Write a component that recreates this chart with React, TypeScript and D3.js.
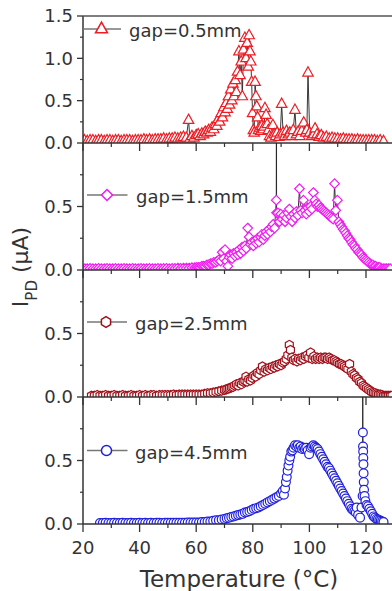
import * as d3 from "d3"

type Pt = [number, number]

// temperature (°C), photocurrent (µA)
const gap05: Pt[] = [
  [20.5, 0.03], [21.5, 0.02], [22.5, 0.03], [23.5, 0.03], [24.5, 0.02], [25.5, 0.03], [26.5, 0.03], [27.5, 0.02],
  [28.5, 0.03], [29.5, 0.03], [30.5, 0.02], [31.5, 0.03], [32.5, 0.03], [33.5, 0.02], [34.5, 0.03], [35.5, 0.03],
  [36.5, 0.03], [37.5, 0.02], [38.5, 0.03], [39.5, 0.03], [40.5, 0.03], [41.5, 0.04], [42.5, 0.03], [43.5, 0.04],
  [44.5, 0.03], [45.5, 0.04], [46.5, 0.04], [47.5, 0.04], [48.5, 0.05], [49.5, 0.04], [50.5, 0.05], [51.5, 0.05],
  [52.5, 0.06], [53.5, 0.05], [54.5, 0.06], [55.5, 0.07], [56.5, 0.06], [57.3, 0.27], [57.8, 0.05], [58.5, 0.08],
  [59.2, 0.06], [60, 0.09], [60.7, 0.1], [61.4, 0.08], [62, 0.11], [62.6, 0.1], [63.2, 0.13], [63.8, 0.12],
  [64.4, 0.15], [65, 0.13], [65.6, 0.18], [66.2, 0.16], [66.8, 0.22], [67.3, 0.2], [67.8, 0.28], [68.3, 0.25],
  [68.8, 0.35], [69.3, 0.3], [69.8, 0.42], [70.2, 0.36], [70.6, 0.47], [71, 0.4], [71.4, 0.55], [71.8, 0.45],
  [72.2, 0.63], [72.6, 0.5], [73, 0.7], [73.4, 0.55], [73.8, 0.74], [74.2, 0.6], [74.6, 0.84], [75.1, 1.08],
  [75.5, 0.8], [75.9, 0.96], [76.3, 0.55], [76.7, 1.1], [77.2, 1.24], [77.6, 1.0], [78, 1.18], [78.4, 0.9],
  [78.7, 1.27], [79, 1.08], [79.3, 0.96], [79.6, 0.72], [79.9, 0.35], [80.2, 0.15], [80.5, 0.12], [80.8, 0.72],
  [81.1, 0.55], [81.4, 0.43], [81.7, 0.3], [82, 0.15], [82.4, 0.18], [82.8, 0.14], [83.2, 0.2], [83.6, 0.16],
  [84, 0.19], [84.3, 0.41], [84.7, 0.33], [85.1, 0.22], [85.5, 0.15], [85.9, 0.08], [86.4, 0.06], [87.1, 0.21],
  [87.6, 0.1], [88.1, 0.08], [88.6, 0.12], [89.2, 0.07], [89.7, 0.1], [90.2, 0.46], [90.7, 0.12], [91.3, 0.08],
  [91.9, 0.14], [92.5, 0.1], [93.1, 0.12], [93.7, 0.08], [94.3, 0.15], [94.9, 0.39], [95.4, 0.1], [96, 0.13],
  [96.6, 0.08], [97.3, 0.14], [98, 0.24], [98.7, 0.12], [99.1, 0.15], [99.5, 0.83], [100.1, 0.12], [100.8, 0.08],
  [101.5, 0.1], [102, 0.17], [102.7, 0.1], [103.4, 0.07], [104.2, 0.09], [105, 0.06], [106, 0.07], [107, 0.05],
  [108, 0.06], [109, 0.05], [110, 0.05], [111, 0.04], [112, 0.05], [113, 0.04], [114, 0.04], [115, 0.04],
  [116, 0.03], [117, 0.04], [118, 0.03], [119, 0.03], [120, 0.03], [121, 0.03], [122, 0.03], [123, 0.03],
  [124, 0.02], [125, 0.03], [126.2, 0.02],
]

const gap15: Pt[] = [
  [20.7, 0.01], [21.5, 0.01], [22.5, 0.012], [23.5, 0.01], [24.5, 0.01], [25.5, 0.012], [26.5, 0.01], [27.5, 0.01],
  [28.5, 0.012], [29.5, 0.01], [30.5, 0.01], [31.5, 0.012], [32.5, 0.01], [33.5, 0.01], [34.5, 0.012], [35.5, 0.01],
  [36.5, 0.01], [37.5, 0.012], [38.5, 0.01], [39.5, 0.01], [40.5, 0.012], [41.5, 0.01], [42.5, 0.01], [43.5, 0.012],
  [44.5, 0.01], [45.5, 0.01], [46.5, 0.012], [47.5, 0.01], [48.5, 0.012], [49.5, 0.012], [50.5, 0.01], [51.5, 0.012],
  [52.5, 0.012], [53.5, 0.015], [54.5, 0.012], [55.5, 0.015], [56.5, 0.015], [57.5, 0.015], [58.5, 0.018], [59.5, 0.018],
  [60.2, 0.02], [60.8, 0.02], [61.4, 0.02], [62, 0.03], [62.6, 0.03], [63.2, 0.03], [63.8, 0.04], [64.4, 0.04],
  [65, 0.05], [65.6, 0.05], [66.2, 0.06], [66.8, 0.06], [67.4, 0.07], [68, 0.08], [68.6, 0.07], [69.2, 0.14],
  [69.7, 0.09], [70.2, 0.16], [70.7, 0.07], [71.2, 0.03], [71.7, 0.1], [72.2, 0.12], [72.7, 0.09], [73.2, 0.13],
  [73.7, 0.11], [74.2, 0.14], [74.7, 0.12], [75.2, 0.16], [75.7, 0.13], [76.2, 0.18], [76.7, 0.15], [77.2, 0.19],
  [77.7, 0.17], [78.2, 0.33], [78.7, 0.26], [79.2, 0.2], [79.7, 0.22], [80.2, 0.19], [80.7, 0.23], [81.2, 0.21],
  [81.7, 0.25], [82.2, 0.22], [82.7, 0.26], [83.2, 0.28], [83.7, 0.24], [84.2, 0.27], [84.7, 0.3], [85.2, 0.28],
  [85.7, 0.32], [86.2, 0.3], [86.7, 0.34], [87.2, 0.36], [87.7, 0.33], [88.3, 0.55], [88.35, 1.9], [88.4, 0.45],
  [88.9, 0.45], [89.4, 0.38], [89.9, 0.44], [90.4, 0.4], [90.9, 0.43], [91.4, 0.38], [91.9, 0.41], [92.4, 0.45],
  [92.9, 0.48], [93.4, 0.42], [93.9, 0.38], [94.4, 0.44], [94.9, 0.41], [95.4, 0.46], [95.9, 0.43], [96.5, 0.64],
  [96.9, 0.47], [97.4, 0.45], [97.9, 0.55], [98.4, 0.47], [98.9, 0.44], [99.4, 0.49], [99.9, 0.46], [100.4, 0.5],
  [100.9, 0.48], [101.4, 0.61], [101.9, 0.55], [102.4, 0.52], [102.9, 0.5], [103.4, 0.51], [103.9, 0.49], [104.4, 0.48],
  [104.9, 0.47], [105.4, 0.46], [105.9, 0.45], [106.4, 0.44], [106.9, 0.43], [107.4, 0.42], [107.9, 0.41], [108.4, 0.4],
  [108.9, 0.68], [109.3, 0.47], [109.9, 0.55], [110.4, 0.38], [110.9, 0.36], [111.4, 0.34], [111.9, 0.32], [112.4, 0.31],
  [112.9, 0.29], [113.4, 0.27], [113.9, 0.25], [114.4, 0.24], [114.9, 0.22], [115.4, 0.2], [115.9, 0.19], [116.4, 0.17],
  [116.9, 0.16], [117.4, 0.14], [117.9, 0.13], [118.4, 0.12], [118.9, 0.1], [119.4, 0.09], [119.9, 0.08], [120.4, 0.07],
  [120.9, 0.06], [121.4, 0.05], [121.9, 0.04], [122.4, 0.04], [122.9, 0.03], [123.4, 0.03], [123.9, 0.02], [124.4, 0.02],
  [124.9, 0.02], [125.5, 0.01], [126.1, 0.01], [126.7, 0.01], [127.3, 0.01], [128, 0.01], [128.6, 0.01],
]

const gap25: Pt[] = [
  [23, 0.01], [24, 0.01], [25, 0.015], [26, 0.01], [27, 0.01], [28, 0.015], [29, 0.01], [30, 0.01],
  [31, 0.015], [32, 0.01], [33, 0.01], [34, 0.015], [35, 0.01], [36, 0.01], [37, 0.015], [38, 0.01],
  [39, 0.01], [40, 0.015], [41, 0.01], [42, 0.015], [43, 0.01], [44, 0.015], [45, 0.015], [46, 0.01],
  [47, 0.015], [48, 0.015], [49, 0.015], [50, 0.015], [51, 0.015], [52, 0.02], [53, 0.015], [54, 0.02],
  [55, 0.02], [56, 0.02], [57, 0.02], [58, 0.02], [59, 0.02], [60, 0.02], [61, 0.02], [62, 0.02],
  [63, 0.025], [64, 0.03], [65, 0.03], [66, 0.035], [67, 0.04], [68, 0.045], [69, 0.05], [70, 0.055],
  [70.6, 0.06], [71.2, 0.065], [71.8, 0.07], [72.4, 0.075], [73, 0.08], [73.6, 0.09], [74.2, 0.1], [74.8, 0.09],
  [75.4, 0.11], [76, 0.1], [76.6, 0.12], [77.2, 0.13], [77.6, 0.16], [78, 0.12], [78.6, 0.14], [79.2, 0.13],
  [79.8, 0.15], [80.4, 0.17], [81, 0.16], [81.6, 0.19], [82.2, 0.18], [82.8, 0.21], [83.4, 0.24], [84, 0.2],
  [84.6, 0.22], [85.2, 0.21], [85.8, 0.23], [86.4, 0.22], [87, 0.24], [87.6, 0.23], [88.2, 0.25], [88.8, 0.24],
  [89.4, 0.26], [90, 0.25], [90.6, 0.27], [91.2, 0.28], [91.8, 0.3], [92.4, 0.33], [92.9, 0.41], [93.3, 0.37],
  [93.8, 0.31], [94.4, 0.29], [95, 0.3], [95.6, 0.28], [96.2, 0.3], [96.8, 0.29], [97.4, 0.31], [98, 0.3],
  [98.6, 0.32], [99.2, 0.33], [99.8, 0.31], [100.4, 0.35], [101, 0.3], [101.6, 0.32], [102.2, 0.3], [102.8, 0.31],
  [103.4, 0.3], [104, 0.31], [104.6, 0.3], [105.2, 0.31], [105.8, 0.31], [106.4, 0.3], [107, 0.31], [107.6, 0.3],
  [108.2, 0.29], [108.8, 0.29], [109.4, 0.28], [110, 0.27], [110.6, 0.26], [111.2, 0.26], [111.8, 0.25], [112.4, 0.24],
  [113, 0.23], [113.6, 0.22], [114.2, 0.26], [114.8, 0.2], [115.4, 0.18], [116, 0.17], [116.6, 0.15], [117.2, 0.14],
  [117.8, 0.12], [118.4, 0.11], [119, 0.09], [119.6, 0.08], [120.2, 0.07], [120.8, 0.06], [121.4, 0.05], [122, 0.04],
  [122.6, 0.035], [123.2, 0.03], [123.8, 0.025], [124.4, 0.02], [125, 0.02], [125.6, 0.015], [126.2, 0.01], [126.8, 0.01],
  [127.4, 0.01], [128, 0.01], [128.6, 0.01], [129.2, 0.01],
]

const gap45: Pt[] = [
  [26, 0.008], [27, 0.008], [28, 0.01], [29, 0.008], [30, 0.008], [31, 0.01], [32, 0.008], [33, 0.008],
  [34, 0.01], [35, 0.008], [36, 0.008], [37, 0.01], [38, 0.008], [39, 0.008], [40, 0.01], [41, 0.008],
  [42, 0.01], [43, 0.008], [44, 0.01], [45, 0.008], [46, 0.01], [47, 0.01], [48, 0.008], [49, 0.01],
  [50, 0.01], [51, 0.01], [52, 0.01], [53, 0.01], [54, 0.01], [55, 0.01], [56, 0.01], [57, 0.012],
  [58, 0.012], [59, 0.012], [60, 0.012], [61, 0.012], [62, 0.015], [63, 0.015], [64, 0.02], [65, 0.02],
  [66, 0.025], [67, 0.03], [68, 0.03], [69, 0.035], [70, 0.04], [70.8, 0.045], [71.6, 0.05], [72.4, 0.055],
  [73.2, 0.06], [74, 0.065], [74.8, 0.07], [75.6, 0.075], [76.4, 0.08], [77.2, 0.09], [78, 0.095], [78.8, 0.1],
  [79.6, 0.11], [80.4, 0.12], [81.2, 0.125], [82, 0.13], [82.8, 0.14], [83.6, 0.15], [84.4, 0.16], [85.2, 0.17],
  [86, 0.18], [86.8, 0.19], [87.6, 0.2], [88.4, 0.21], [89.2, 0.22], [90, 0.24], [90.6, 0.26], [91, 0.23],
  [91.4, 0.28], [91.7, 0.33], [92, 0.37], [92.3, 0.42], [92.6, 0.46], [92.9, 0.5], [93.2, 0.53], [93.6, 0.57],
  [94, 0.58], [94.4, 0.6], [94.9, 0.62], [95.4, 0.61], [95.9, 0.62], [96.4, 0.6], [96.9, 0.61], [97.4, 0.59],
  [97.9, 0.6], [98.4, 0.59], [98.9, 0.6], [99.4, 0.58], [99.9, 0.55], [100.4, 0.6], [100.9, 0.61], [101.4, 0.62],
  [101.9, 0.61], [102.4, 0.6], [102.9, 0.59], [103.4, 0.57], [103.9, 0.55], [104.4, 0.53], [104.9, 0.51], [105.4, 0.49],
  [105.9, 0.47], [106.4, 0.45], [106.9, 0.44], [107.4, 0.42], [107.9, 0.4], [108.4, 0.38], [108.9, 0.36], [109.4, 0.34],
  [109.9, 0.32], [110.4, 0.3], [110.9, 0.28], [111.4, 0.26], [111.9, 0.24], [112.4, 0.22], [112.9, 0.2], [113.4, 0.18],
  [113.9, 0.16], [114.4, 0.14], [114.9, 0.12], [115.4, 0.11], [115.9, 0.1], [116.4, 0.09], [116.7, 0.13], [117.2, 0.07],
  [117.9, 0.05], [118.4, 0.13], [118.8, 0.22], [118.85, 1.9], [118.9, 0.72], [118.95, 0.61], [119, 0.57], [119.05, 0.52],
  [119.1, 0.47], [119.15, 0.4], [119.2, 0.33], [119.3, 0.27], [119.5, 0.22], [119.8, 0.18], [120.2, 0.15], [120.7, 0.14],
  [121.2, 0.12], [121.7, 0.1], [122.2, 0.08], [122.7, 0.06], [123.2, 0.05], [123.7, 0.04], [124.2, 0.035], [124.7, 0.03],
  [125.2, 0.025], [125.7, 0.02], [126.2, 0.015],
]

const xTicks = [20, 40, 60, 80, 100, 120]
const xMinor = [30, 50, 70, 90, 110, 130]

const panels = [
  { label: "gap=0.5mm", data: gap05, color: "#ee1c24", shape: "triangle", yMax: 1.5, yTicks: [0, 0.5, 1.0, 1.5], yMinor: [0.25, 0.75, 1.25], legY: 13, legX: 101.5, legLine: [83, 121], legText: 129 },
  { label: "gap=1.5mm", data: gap15, color: "#ee1cee", shape: "diamond", yMax: 1.0, yTicks: [0, 0.5], yMinor: [0.25, 0.75], legY: 52, legX: 107, legLine: [87, 127.5], legText: 136 },
  { label: "gap=2.5mm", data: gap25, color: "#a0101a", shape: "hexagon", yMax: 1.0, yTicks: [0, 0.5], yMinor: [0.25, 0.75], legY: 52, legX: 106, legLine: [87, 127], legText: 135 },
  { label: "gap=4.5mm", data: gap45, color: "#2020dd", shape: "circle", yMax: 1.0, yTicks: [0, 0.5], yMinor: [0.25, 0.75], legY: 53.5, legX: 106.5, legLine: [87, 127.5], legText: 135 },
]

function shapePath(shape: string, s = 1) {
  if (shape === "triangle") return `M0,${-6 * s}L${5.2 * s},${3.3 * s}L${-5.2 * s},${3.3 * s}Z`
  if (shape === "diamond") return `M0,${-4.8 * s}L${4.8 * s},0L0,${4.8 * s}L${-4.8 * s},0Z`
  if (shape === "hexagon") {
    const r = 4.6 * s
    const pts = d3.range(6).map((i) => {
      const a = (Math.PI / 3) * i + Math.PI / 6
      return `${(r * Math.cos(a)).toFixed(2)},${(r * Math.sin(a)).toFixed(2)}`
    })
    return "M" + pts.join("L") + "Z"
  }
  return d3.symbol(d3.symbolCircle, Math.PI * (4.4 * s) ** 2)() as string
}

export default function App() {
  const W = 392
  const H = 591
  const left = 83
  const panelTop0 = 16
  const panelH = 127
  const axisColor = "#333"
  const textColor = "#333"

  const x = d3.scaleLinear().domain([20, 130]).range([left, left + 110 * 2.83])
  const fmt = d3.format(".1f")

  return (
    <svg width={W} height={H} style={{ position: "absolute", left: 0, top: 0, background: "#fff" }} fontFamily="DejaVu Sans">
      <rect width={W} height={H} fill="#fff" />
      {panels.map((p, i) => {
        const top = panelTop0 + i * panelH
        const bottom = top + panelH
        const y = d3.scaleLinear().domain([0, p.yMax]).range([bottom, top])
        const line = d3.line<Pt>().x((d) => x(d[0])).y((d) => y(d[1]))
        const clipId = `clip-${i}`
        return (
          <g key={p.label}>
            <clipPath id={clipId}>
              <rect x={left} y={top} width={W - left} height={panelH} />
            </clipPath>
            <g clipPath={`url(#${clipId})`}>
              <path d={line(p.data) ?? ""} fill="none" stroke="#222" strokeWidth={0.9} />
              {p.data.map((d, j) => (
                <path key={j} d={shapePath(p.shape)} transform={`translate(${x(d[0])},${y(d[1])})`} fill="#fff" stroke={p.color} strokeWidth={1.2} />
              ))}
            </g>
            {/* axes */}
            <line x1={left} x2={left} y1={top} y2={bottom} stroke={axisColor} strokeWidth={1.5} />
            <line x1={left} x2={W} y1={bottom} y2={bottom} stroke={axisColor} strokeWidth={1.5} />
            {i === 0 && <line x1={left} x2={W} y1={top} y2={top} stroke="#555" strokeWidth={1.5} />}
            {xTicks.map((t) => (
              <line key={t} x1={x(t)} x2={x(t)} y1={bottom} y2={bottom + 8} stroke={axisColor} strokeWidth={1.3} />
            ))}
            {xMinor.map((t) => (
              <line key={t} x1={x(t)} x2={x(t)} y1={bottom} y2={bottom + 4} stroke={axisColor} strokeWidth={1.2} />
            ))}
            {p.yTicks.map((t) => (
              <g key={t}>
                <line x1={left - 6} x2={left} y1={y(t)} y2={y(t)} stroke={axisColor} strokeWidth={1.3} />
                <text x={left - 10} y={y(t)} dy="0.36em" textAnchor="end" fontSize={18} fill={textColor}>
                  {fmt(t)}
                </text>
              </g>
            ))}
            {p.yMinor.map((t) => (
              <line key={t} x1={left - 3} x2={left} y1={y(t)} y2={y(t)} stroke={axisColor} strokeWidth={1.2} />
            ))}
            {/* legend */}
            <line x1={p.legLine[0]} x2={p.legLine[1]} y1={top + p.legY} y2={top + p.legY} stroke="#777" strokeWidth={1.3} />
            <path d={shapePath(p.shape, 1.15)} transform={`translate(${p.legX},${top + p.legY})`} fill="#fff" stroke={p.color} strokeWidth={1.5} />
            <text x={p.legText} y={top + p.legY + 8} fontSize={18} fill={textColor}>
              {p.label}
            </text>
          </g>
        )
      })}
      {/* x tick labels */}
      {xTicks.map((t) => (
        <text key={t} x={x(t)} y={554} textAnchor="middle" fontSize={18} fill={textColor}>
          {t}
        </text>
      ))}
      <text x={239} y={587} textAnchor="middle" fontSize={23} fill={textColor}>
        Temperature (°C)
      </text>
      <text transform="translate(28,267) rotate(-90)" textAnchor="middle" fontSize={22} fill={textColor}>
        I<tspan fontSize={15} dy={9}>PD</tspan>
        <tspan dy={-9}> (μA)</tspan>
      </text>
    </svg>
  )
}
